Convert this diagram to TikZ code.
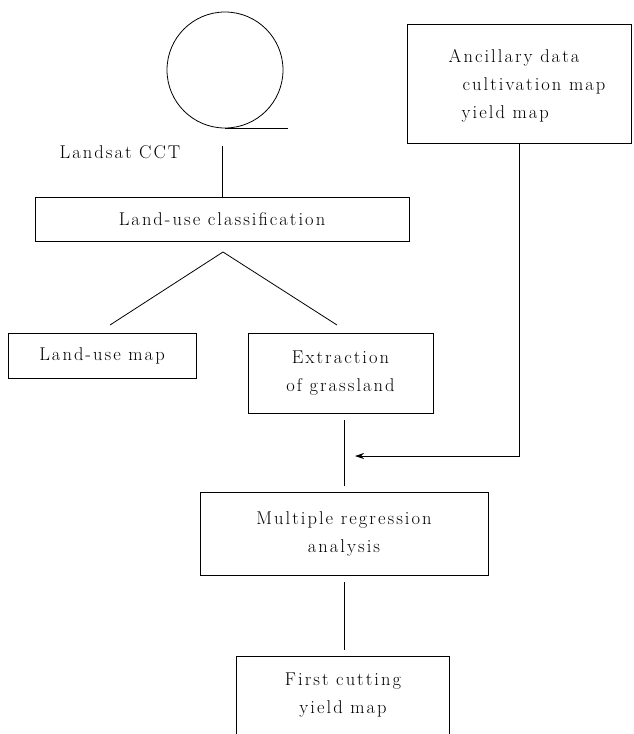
\documentclass[tikz,border=0pt]{standalone}
\usepackage{fontspec}
\setmainfont{Latin Modern Roman}[LetterSpace=11]
\usetikzlibrary{arrows.meta}
\tikzset{
	txt/.style={font=\fontsize{18.5}{28}\selectfont, align=center, inner sep=0pt},
	flowbox/.style={txt, draw, line width=0.9pt},
	link/.style={line width=0.8pt},
}
\begin{document}
\begin{tikzpicture}[x=1pt, y=-1pt]
	\useasboundingbox (0,0) rectangle (634,734);
	% tape reel and its label
	\node[draw, circle, line width=0.8pt, minimum size=116pt, inner sep=0pt] (cct) at (225,70) {};
	\draw[link] (cct.south) -- ++(63,0);
	\node[txt] (cctlabel) at (120,152) {Landsat CCT};
	% classification step
	\node[flowbox, minimum width=374pt, minimum height=44pt] (class) at (222,219) {Land-use classification};
	\coordinate (cctfoot) at (222,146);
	\draw[link] (cctfoot) -- (class.north);
	\coordinate (apex) at (223,252);
	\coordinate (lufoot) at (110,325);
	\coordinate (exfoot) at (337,325);
	\draw[link] (lufoot) -- (apex) -- (exfoot);
	\node[flowbox, minimum width=188pt, minimum height=45pt] (lumap) at (102,355.5) {Land-use map};
	\node[flowbox, minimum width=185pt, minimum height=80pt] (extract) at (340.5,373) {Extraction\\of grassland};
	% ancillary data
	\node[flowbox, minimum width=224pt, minimum height=119pt] (ancil) at (519,83.5) {};
	\node[txt, align=left] (anciltext) at (527,86) {Ancillary data\\\hspace*{14pt}cultivation map\\\hspace*{13pt}yield map};
	\coordinate (arrowtip) at (355,456);
	\draw[link, -{Stealth[length=9pt,width=6pt]}] (ancil.south) |- (arrowtip);
	% regression and result
	\node[flowbox, minimum width=288pt, minimum height=83pt] (regress) at (344,533.5) {Multiple regression\\analysis};
	\draw[link, shorten <=7pt, shorten >=6pt] (regress.north |- extract.south) -- (regress.north);
	\node[txt, minimum width=212pt, minimum height=77pt] (yield) at (343,695.5) {First cutting\\yield map};
	\draw[line width=0.9pt] (yield.south west) |- (yield.north east) -- (yield.south east);
	\draw[link, shorten <=7pt, shorten >=7pt] (regress.south) -- (regress.south |- yield.north);
\end{tikzpicture}
\end{document}
